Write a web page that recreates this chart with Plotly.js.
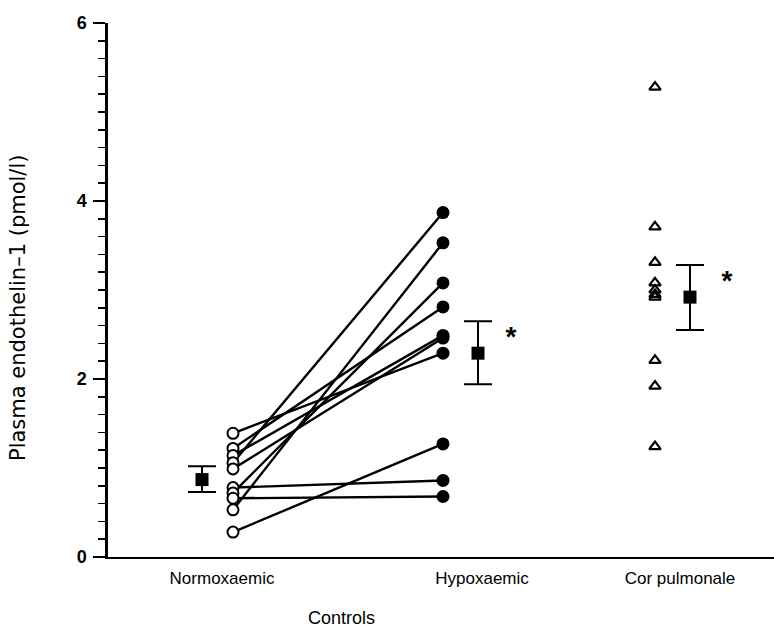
<!DOCTYPE html>
<html><head><meta charset="utf-8">
<script src="https://cdn.plot.ly/plotly-3.0.1.min.js"></script>
<style>body{margin:0;background:#fff}#c{width:774px;height:628px}</style>
</head><body><div id="c"></div>
<script>
// Data (pmol/l)
const categories = ["Normoxaemic", "Hypoxaemic", "Cor pulmonale"];
const normoxaemic = [1.39, 1.22, 1.14, 1.06, 0.99, 0.78, 0.72, 0.66, 0.53, 0.28];
const hypoxaemic  = [2.29, 2.81, 2.49, 3.87, 2.46, 0.86, 3.08, 0.68, 3.53, 1.27];
const corPulmonale = [5.28, 3.71, 3.31, 3.08, 3.00, 2.95, 2.92, 2.21, 1.92, 1.24];
const groupMeans = [0.87, 2.29, 2.92];
const errUp = [0.15, 0.36, 0.36];
const errDown = [0.14, 0.35, 0.37];
const significant = [false, true, true];

// Horizontal layout positions (axis units)
const labelX = [1.14, 3.74, 5.72];
const pointX = [1.25, 3.35, 5.47];
const meanX = [0.94, 3.70, 5.82];
const starX = [null, 4.03, 6.19];

const traces = [];
// paired lines
const lx = [], ly = [];
normoxaemic.forEach((v, i) => { lx.push(pointX[0], pointX[1], null); ly.push(v, hypoxaemic[i], null); });
traces.push({x: lx, y: ly, mode: 'lines', line: {color: 'black', width: 2.4}, hoverinfo: 'skip', cliponaxis: false});
traces.push({x: normoxaemic.map(() => pointX[0]), y: normoxaemic, mode: 'markers',
  marker: {symbol: 'circle', size: 11, color: 'white', line: {color: 'black', width: 2}}, cliponaxis: false});
traces.push({x: hypoxaemic.map(() => pointX[1]), y: hypoxaemic, mode: 'markers',
  marker: {symbol: 'circle', size: 13, color: 'black', line: {color: 'black', width: 0}}, cliponaxis: false});
traces.push({x: corPulmonale.map(() => pointX[2]), y: corPulmonale, mode: 'markers',
  marker: {symbol: 'triangle-up-open', size: 10, color: 'black', line: {width: 2.2}}, cliponaxis: false});
traces.push({x: meanX, y: groupMeans, mode: 'markers',
  marker: {symbol: 'square', size: 13, color: 'black'},
  error_y: {type: 'data', symmetric: false, array: errUp, arrayminus: errDown, color: 'black', thickness: 2, width: 14},
  cliponaxis: false});
const sx = [], sy = [];
significant.forEach((s, i) => { if (s) { sx.push(starX[i]); sy.push(groupMeans[i] + errUp[i] * 0.45); } });
traces.push({x: sx, y: sy, mode: 'text', text: sx.map(() => '*'),
  textfont: {family: 'Liberation Sans, Arial', size: 28, weight: 'bold', color: 'black'}, textposition: 'middle center', cliponaxis: false});

const layout = {
  width: 774, height: 628,
  margin: {l: 108, r: 0, t: 23, b: 71},
  paper_bgcolor: 'white', plot_bgcolor: 'white',
  showlegend: false,
  font: {family: 'Liberation Sans, Arial, sans-serif', color: 'black'},
  xaxis: {range: [0, 6.66], showgrid: false, zeroline: false, showline: true, linecolor: 'black', linewidth: 2.2,
    tickmode: 'array', tickvals: labelX, ticktext: categories, ticks: '', ticklen: 0,
    ticklabelstandoff: 4,
    tickfont: {size: 17, family: 'Liberation Sans, Arial', color: 'black'}, fixedrange: true},
  yaxis: {range: [0, 6], showgrid: false, zeroline: false, showline: true, linecolor: 'black', linewidth: 2.6,
    tickmode: 'array', tickvals: [0, 2, 4, 6], ticktext: ['0', '2', '4', '6'],
    ticks: 'outside', ticklen: 12, tickwidth: 1.6, tickcolor: 'black', ticklabelstandoff: 3,
    minor: {dtick: 0.2, ticks: 'outside', ticklen: 7, tickwidth: 1.6, tickcolor: 'black', showgrid: false},
    tickfont: {size: 18, family: 'Liberation Sans, Arial', weight: 'bold', color: 'black'}},
  annotations: [
    {text: 'Controls', xref: 'paper', yref: 'paper', x: (341 - 108) / 666, y: -(618 - 557) / 534,
     xanchor: 'center', yanchor: 'middle', showarrow: false, font: {size: 18, color: 'black'}},
    {text: 'Plasma endothelin–1 (pmol/l)', xref: 'paper', yref: 'paper', x: (18 - 108) / 666, y: (557 - 308) / 534,
     xanchor: 'center', yanchor: 'middle', textangle: -90, showarrow: false,
     font: {size: 21, family: 'DejaVu Sans', color: 'black'}}
  ]
};
Plotly.newPlot('c', traces, layout, {displayModeBar: false, staticPlot: true});
</script></body></html>
